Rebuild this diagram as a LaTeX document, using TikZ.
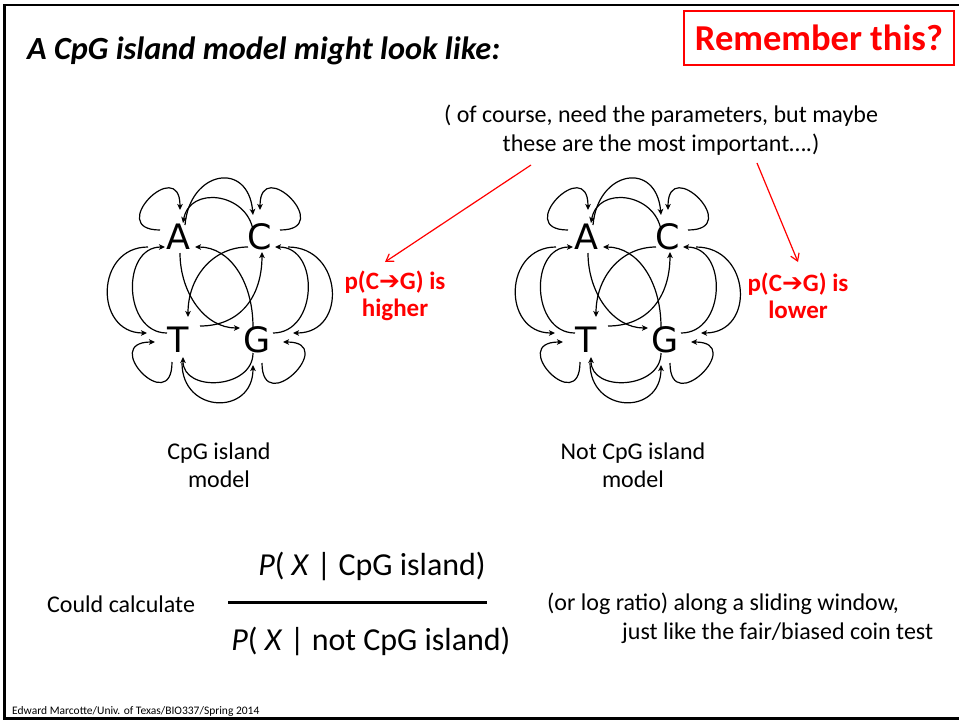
\documentclass[tikz,border=0pt]{standalone}
\usepackage{fontspec}
\setmainfont{Carlito}
\newfontfamily\letterfont{DejaVu Sans}
\newfontfamily\symfont{DejaVu Sans}
\usetikzlibrary{arrows.meta,calc}

% one four-state Markov chain; #1 = horizontal shift, #2 = name prefix
\newcommand\chainmodel[2]{%
  \node[state] (#2A) at (178+#1,-237) {A};
  \node[state] (#2C) at (260+#1,-237) {C};
  \node[state] (#2T) at (178+#1,-340) {T};
  \node[state] (#2G) at (257+#1,-340) {G};
  % self transitions
  \draw[edge] ($(#2A)+(-18,7)$) to[out=180,in=90,distance=56pt] ($(#2A)+(2,27)$);
  \draw[edge] ($(#2C)+(20,7)$) to[out=0,in=90,distance=56pt] ($(#2C)+(0,27)$);
  \draw[edge] ($(#2T)+(-6,-22)$) to[out=-90,in=180,distance=56pt] ($(#2T)+(-23,-2)$);
  \draw[edge] ($(#2G)+(5,-23)$) to[out=-90,in=0,distance=56pt] ($(#2G)+(26,-2)$);
  % A <-> C
  \draw[edge] ($(#2A)+(7,12)$) to[out=85,in=95,distance=55pt] ($(#2C)+(-7,22)$);
  \draw[edge] ($(#2C)+(-7,7)$) to[out=100,in=80,distance=38pt] ($(#2A)+(5,14)$);
  % A <-> T
  \draw[edge] ($(#2A)+(-30,-10)$) to[out=180,in=180,distance=53pt] ($(#2T)+(-31,7)$);
  \draw[edge] ($(#2T)+(-11,7)$) to[out=180,in=180,distance=44pt] ($(#2A)+(-13,-10)$);
  % C <-> G
  \draw[edge] ($(#2C)+(28,-10)$) to[out=0,in=0,distance=55pt] ($(#2G)+(36,7)$);
  \draw[edge] ($(#2G)+(16,7)$) to[out=0,in=0,distance=45pt] ($(#2C)+(15,-10)$);
  % T <-> G
  \draw[edge] ($(#2T)+(4,-23)$) to[out=-90,in=-90,distance=51pt] ($(#2G)+(-4,-25)$);
  \draw[edge] ($(#2G)+(-4,-13)$) to[out=-90,in=-90,distance=36pt] ($(#2T)+(5,-17)$);
  % diagonals
  \draw[edge] ($(#2A)+(2,-16)$) to[out=-90,in=180,out distance=40pt,in distance=35pt] ($(#2G)+(-17,12)$);
  \draw[edge] ($(#2G)+(-4,13)$) to[out=90,in=0,out distance=45pt,in distance=35pt] ($(#2A)+(17,-10)$);
  \draw[edge] ($(#2T)+(22,14)$) to[out=0,in=-90,out distance=40pt,in distance=45pt] ($(#2C)+(2,-15)$);
  \draw[edge] ($(#2C)+(-12,-10)$) to[out=180,in=90,out distance=35pt,in distance=40pt] ($(#2T)+(10,23)$);
}

\begin{document}
\begin{tikzpicture}[x=1pt,y=1pt,
  state/.style={font=\letterfont\fontsize{35}{35}\selectfont, inner sep=0pt},
  edge/.style={line width=1.2pt, -{Stealth[length=6pt,width=5.5pt,inset=1.5pt]}},
  callout/.style={red, line width=1.2pt, -{Straight Barb[length=7pt,width=9pt]}},
  body/.style={font=\fontsize{24}{29}\selectfont, inner sep=0pt, align=center},
  redlabel/.style={font=\bfseries\fontsize{25}{27}\selectfont, text=red, inner sep=0pt, align=center},
  ratio/.style={font=\fontsize{32}{38}\selectfont, inner sep=0pt}
]
\useasboundingbox (0,0) rectangle (959,-721);

% slide frame
\draw[line width=2.5pt] (959,-5) -- (4.5,-5) -- (4.5,-718.5) -- (959,-718.5);

% heading
\node[anchor=west, inner sep=0pt, font=\bfseries\itshape\fontsize{32.3}{38}\selectfont] (title) at (27,-51) {A CpG island model might look like:};
\node[draw=red, line width=2pt, text=red, font=\bfseries\fontsize{36.5}{40}\selectfont,
      minimum width=270pt, minimum height=54pt, inner sep=0pt] (remember) at (819,-38) {Remember this?};

% note on the parameters
\node[body] (note) at (661,-130) {( of course, need the parameters, but maybe\\these are the most important….)};

% the two chains
\chainmodel{0}{p}
\chainmodel{408}{q}

% transition-probability labels
\node[redlabel] (higher) at (395,-296) {p(C{\symfont ➔}G) is\\higher};
\node[redlabel] (lower) at (798,-296) {p(C{\symfont ➔}G) is\\lower};

\coordinate (noteL) at (531,-165);
\coordinate (noteR) at (757,-163);
\coordinate (tipL) at (385,-262);
\coordinate (tipR) at (798,-262);
\draw[callout] (noteL) -- (tipL);
\draw[callout] (noteR) -- (tipR);

% captions
\node[body, font=\fontsize{24}{28}\selectfont] (capL) at (219,-465) {CpG island\\model};
\node[body, font=\fontsize{24}{28}\selectfont] (capR) at (633,-465) {Not CpG island\\model};

% likelihood ratio
\node[body, anchor=west] (could) at (47,-604) {Could calculate};
\node[ratio] (num) at (372,-566) {\textit{P}( \textit{X} | CpG island)};
\node[ratio] (den) at (371,-641) {\textit{P}( \textit{X} | not CpG island)};
\coordinate (barL) at (228,-602);
\coordinate (barR) at (487,-602);
\draw[line width=3pt] (barL) -- (barR);
\node[body, anchor=west] (window) at (547,-604) {(or log ratio) along a sliding window,};
\node[body, anchor=west] (coin) at (622,-633) {just like the fair/biased coin test};

% footer
\node[anchor=west, inner sep=0pt, font=\fontsize{11.5}{13}\selectfont] (credit) at (12,-711) {Edward Marcotte/Univ. of Texas/BIO337/Spring 2014};
\end{tikzpicture}
\end{document}
